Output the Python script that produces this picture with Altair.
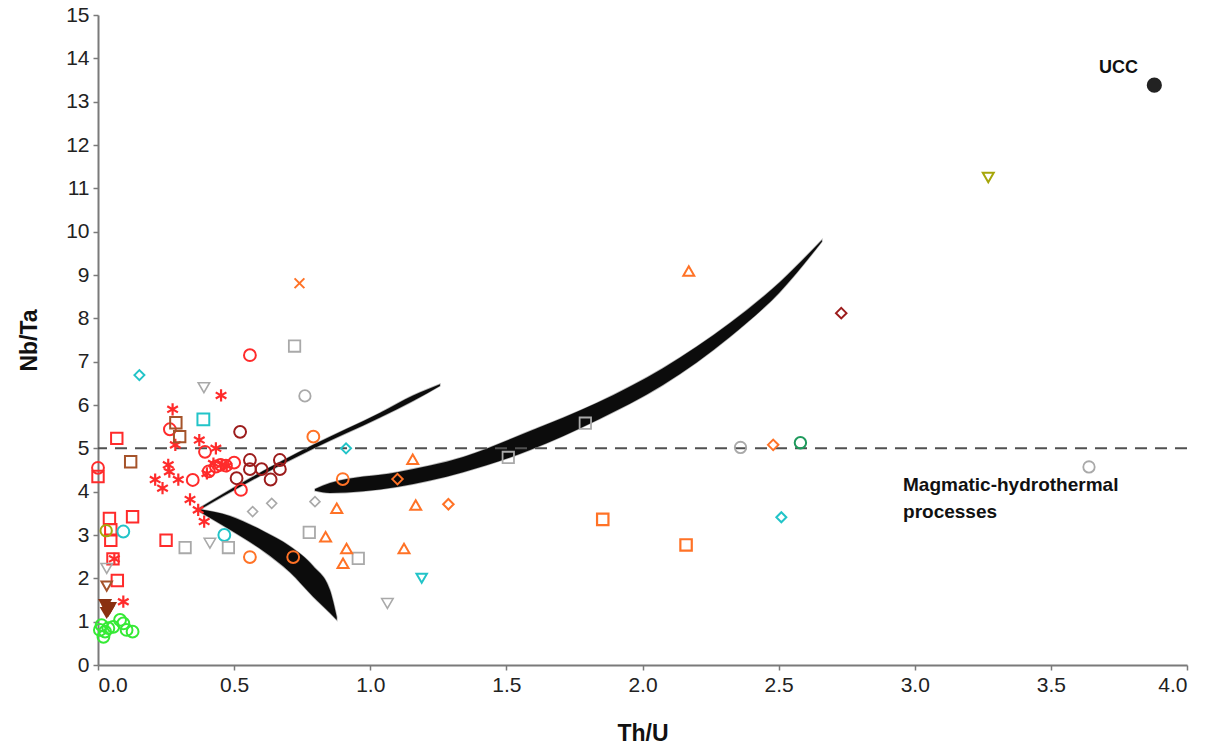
import altair as alt
import pandas as pd

# ---------------- data ----------------
red_sq_x = [0.069, 0.0, 0.127, 0.042, 0.047, 0.047, 0.055, 0.071, 0.25]
red_sq_y = [5.23, 4.35, 3.42, 3.38, 3.12, 2.88, 2.45, 1.95, 2.88]

red_ci_x = [0.0, 0.558, 0.264, 0.393, 0.348, 0.407, 0.433, 0.45, 0.47, 0.50, 0.525]
red_ci_y = [4.55, 7.15, 5.44, 4.92, 4.27, 4.47, 4.58, 4.62, 4.60, 4.67, 4.04]

red_ast_x = [0.274, 0.452, 0.372, 0.284, 0.433, 0.258, 0.262, 0.21, 0.237, 0.295,
             0.338, 0.368, 0.39, 0.424, 0.454, 0.473, 0.40, 0.093, 0.06]
red_ast_y = [5.90, 6.22, 5.19, 5.08, 5.00, 4.62, 4.46, 4.28, 4.08, 4.28,
             3.82, 3.58, 3.31, 4.65, 4.62, 4.59, 4.42, 1.46, 2.45]

dred_ci_x = [0.522, 0.558, 0.558, 0.601, 0.668, 0.668, 0.634, 0.509]
dred_ci_y = [5.38, 4.73, 4.52, 4.52, 4.73, 4.52, 4.28, 4.31]

brown_sq_x = [0.286, 0.30, 0.12]
brown_sq_y = [5.59, 5.27, 4.69]

brown_tri_x = [0.032]
brown_tri_y = [1.82]

brown_filled_tri_x = [0.026, 0.044, 0.032, 0.038]
brown_filled_tri_y = [1.38, 1.31, 1.20, 1.25]

brown_dia_x = [2.73]
brown_dia_y = [8.12]

cyan_dia_x = [0.152, 0.911, 2.51]
cyan_dia_y = [6.69, 5.00, 3.41]

cyan_sq_x = [0.387]
cyan_sq_y = [5.67]

cyan_ci_x = [0.464, 0.093]
cyan_ci_y = [3.00, 3.08]

cyan_tri_x = [1.189]
cyan_tri_y = [2.00]

gray_sq_x = [0.722, 1.79, 1.507, 0.776, 0.956, 0.479, 0.32]
gray_sq_y = [7.36, 5.58, 4.79, 3.06, 2.46, 2.71, 2.71]

gray_ci_x = [0.76, 2.36, 3.64]
gray_ci_y = [6.21, 5.02, 4.57]

gray_tri_x = [0.389, 0.411, 1.063, 0.032]
gray_tri_y = [6.40, 2.81, 1.42, 2.23]

gray_dia_x = [0.568, 0.638, 0.797]
gray_dia_y = [3.54, 3.73, 3.77]

orange_ci_x = [0.791, 0.899, 0.558, 0.717]
orange_ci_y = [5.27, 4.29, 2.49, 2.49]

orange_sq_x = [1.854, 2.16]
orange_sq_y = [3.36, 2.77]

orange_tri_x = [2.17, 1.156, 0.877, 1.167, 0.836, 0.913, 0.90, 1.124]
orange_tri_y = [9.09, 4.75, 3.62, 3.69, 2.96, 2.69, 2.35, 2.69]

orange_dia_x = [1.10, 1.287, 2.48]
orange_dia_y = [4.29, 3.71, 5.08]

orange_x_x = [0.74]
orange_x_y = [8.81]

green_ci_x = [0.007, 0.026, 0.02, 0.038, 0.056, 0.081, 0.093, 0.105, 0.127, 0.013]
green_ci_y = [0.81, 0.77, 0.65, 0.85, 0.88, 1.04, 0.96, 0.81, 0.77, 0.92]

teal_ci_x = [2.58]
teal_ci_y = [5.13]

olive_tri_x = [3.27]
olive_tri_y = [11.25]

olive_ci_x = [0.03]
olive_ci_y = [3.10]

ucc_x = [3.88]
ucc_y = [13.38]

band1_x = [0.367, 0.547, 0.790, 1.036, 1.157, 1.256]
band1_top = [3.60, 4.27, 5.08, 5.82, 6.22, 6.48]
band1_bot = [3.56, 4.20, 4.99, 5.71, 6.09, 6.44]

band2_x = [0.367, 0.485, 0.607, 0.705, 0.791, 0.852, 0.877]
band2_top = [3.60, 3.44, 3.09, 2.74, 2.28, 1.73, 1.11]
band2_bot = [3.56, 3.12, 2.63, 2.14, 1.57, 1.20, 1.04]

band3_x = [0.797, 0.852, 1.098, 1.341, 1.587, 1.833, 2.075, 2.321, 2.505, 2.659]
band3_top = [4.06, 4.20, 4.45, 4.80, 5.40, 6.05, 6.85, 7.89, 8.84, 9.81]
band3_bot = [4.02, 3.97, 4.11, 4.45, 4.96, 5.65, 6.46, 7.57, 8.61, 9.77]

x_ticks = [0.0, 0.5, 1.0, 1.5, 2.0, 2.5, 3.0, 3.5, 4.0]
y_ticks = list(range(0, 16))

# ---------------- styles ----------------
RED = "#ff2b2b"
DRED = "#9c1c1c"
BROWN = "#a5532a"
DBROWN = "#8a3010"
CYAN = "#22c4c8"
GRAY = "#a9a9a9"
ORANGE = "#ff7226"
GREEN = "#35ea35"
TEAL = "#1e9a5c"
OLIVE = "#a6a60a"

ASTER = "M0,-1L0,1M-0.87,-0.5L0.87,0.5M-0.87,0.5L0.87,-0.5"
XMARK = "M-0.8,-0.8L0.8,0.8M-0.8,0.8L0.8,-0.8"

open_series = [
    (red_sq_x, red_sq_y, "square", RED, 2.0, 130),
    (red_ci_x, red_ci_y, "circle", RED, 2.0, 140),
    (red_ast_x, red_ast_y, ASTER, RED, 2.2, 150),
    (dred_ci_x, dred_ci_y, "circle", DRED, 2.0, 140),
    (brown_sq_x, brown_sq_y, "square", BROWN, 2.0, 130),
    (brown_tri_x, brown_tri_y, "triangle-down", BROWN, 2.0, 110),
    (brown_dia_x, brown_dia_y, "diamond", DRED, 2.0, 110),
    (cyan_dia_x, cyan_dia_y, "diamond", CYAN, 2.0, 100),
    (cyan_sq_x, cyan_sq_y, "square", CYAN, 2.0, 140),
    (cyan_ci_x, cyan_ci_y, "circle", CYAN, 2.0, 140),
    (cyan_tri_x, cyan_tri_y, "triangle-down", CYAN, 2.0, 110),
    (gray_sq_x, gray_sq_y, "square", GRAY, 1.8, 130),
    (gray_ci_x, gray_ci_y, "circle", GRAY, 1.8, 130),
    (gray_tri_x, gray_tri_y, "triangle-down", GRAY, 1.6, 130),
    (gray_dia_x, gray_dia_y, "diamond", GRAY, 1.6, 100),
    (orange_ci_x, orange_ci_y, "circle", ORANGE, 2.0, 140),
    (orange_sq_x, orange_sq_y, "square", ORANGE, 2.2, 130),
    (orange_tri_x, orange_tri_y, "triangle-up", ORANGE, 2.0, 120),
    (orange_dia_x, orange_dia_y, "diamond", ORANGE, 2.0, 110),
    (orange_x_x, orange_x_y, XMARK, ORANGE, 2.0, 150),
    (green_ci_x, green_ci_y, "circle", GREEN, 2.0, 140),
    (teal_ci_x, teal_ci_y, "circle", TEAL, 2.0, 130),
    (olive_tri_x, olive_tri_y, "triangle-down", OLIVE, 2.0, 120),
    (olive_ci_x, olive_ci_y, "circle", OLIVE, 2.0, 130),
]

rows = []
for xs_, ys_, shp, col, sw, sz in open_series:
    for xv, yv in zip(xs_, ys_):
        rows.append({"x": xv, "y": yv, "shape": shp, "color": col, "sw": sw, "size": sz})
pts = pd.DataFrame(rows)

filled_rows = []
for xv, yv in zip(brown_filled_tri_x, brown_filled_tri_y):
    filled_rows.append({"x": xv, "y": yv, "shape": "triangle-down", "color": DBROWN, "size": 200})
for xv, yv in zip(ucc_x, ucc_y):
    filled_rows.append({"x": xv, "y": yv, "shape": "circle", "color": "#222222", "size": 230})
filled = pd.DataFrame(filled_rows)

xs = alt.Scale(domain=[0, 4], nice=False, zero=False)
ys = alt.Scale(domain=[0, 15], nice=False, zero=False)

xaxis = alt.Axis(
    values=x_ticks, format=".1f", title="Th/U", grid=False,
    labelFontSize=21, labelColor="#222", labelPadding=4,
    titleFontSize=23, titleFontWeight="bold", titleColor="#111", titlePadding=27,
    domainColor="#7a7a7a", domainWidth=2, tickColor="#7a7a7a", tickSize=5, tickWidth=1.5,
    labelFont="Liberation Sans", titleFont="Liberation Sans")
yaxis = alt.Axis(
    values=y_ticks, format="d", title="Nb/Ta", grid=False,
    labelFontSize=21, labelColor="#222", labelPadding=4,
    titleFontSize=23, titleFontWeight="bold", titleColor="#111", titlePadding=24,
    domainColor="#7a7a7a", domainWidth=2, tickColor="#7a7a7a", tickSize=5, tickWidth=1.5,
    labelFont="Liberation Sans", titleFont="Liberation Sans")


def XE(field="x:Q"):
    return alt.X(field, scale=xs, axis=xaxis, title="Th/U")


def YE(field="y:Q"):
    return alt.Y(field, scale=ys, axis=yaxis, title="Nb/Ta")


def band(bx, top, bot):
    df = pd.DataFrame({"x": bx, "top": top, "bot": bot})
    return alt.Chart(df).mark_area(
        color="#000000", opacity=0.95, stroke="#000000", strokeWidth=1.5,
        strokeOpacity=0.3, interpolate="monotone").encode(
        x=XE(), y=YE("top:Q"), y2="bot:Q")


dash = alt.Chart(pd.DataFrame({"y": [5.0]})).mark_rule(
    color="#505050", strokeWidth=2, strokeDash=[12, 8]).encode(y=YE())

open_pts = alt.Chart(pts).mark_point(filled=False, opacity=1).encode(
    x=XE(), y=YE(),
    shape=alt.Shape("shape:N", scale=None),
    stroke=alt.Stroke("color:N", scale=None),
    strokeWidth=alt.StrokeWidth("sw:Q", scale=None),
    size=alt.Size("size:Q", scale=None))

filled_pts = alt.Chart(filled).mark_point(filled=True, opacity=1).encode(
    x=XE(), y=YE(),
    shape=alt.Shape("shape:N", scale=None),
    color=alt.Color("color:N", scale=None),
    size=alt.Size("size:Q", scale=None))

label_x = [3.82, 2.957, 2.957]
label_y = [13.78, 4.15, 3.53]
label_t = ["UCC", "Magmatic-hydrothermal", "processes"]
labels = pd.DataFrame({"x": label_x, "y": label_y, "t": label_t})

txt_ucc = alt.Chart(labels.iloc[[0]]).mark_text(
    align="right", baseline="middle", fontSize=18, fontWeight="bold",
    font="Liberation Sans", color="#111").encode(x=XE(), y=YE(), text="t:N")
txt_mag = alt.Chart(labels.iloc[[1, 2]]).mark_text(
    align="left", baseline="middle", fontSize=19, fontWeight="bold",
    font="Liberation Sans", color="#111").encode(x=XE(), y=YE(), text="t:N")

chart = alt.layer(
    band(band1_x, band1_top, band1_bot),
    band(band2_x, band2_top, band2_bot),
    band(band3_x, band3_top, band3_bot),
    dash,
    open_pts,
    filled_pts,
    txt_ucc,
    txt_mag,
).properties(
    width=1089, height=650,
    padding={"left": 98, "top": 15, "right": 22, "bottom": 86},
    autosize="none",
    background="white",
).configure_view(stroke=None)

chart.save("out.html", embed_options={"renderer": "svg", "actions": False})
